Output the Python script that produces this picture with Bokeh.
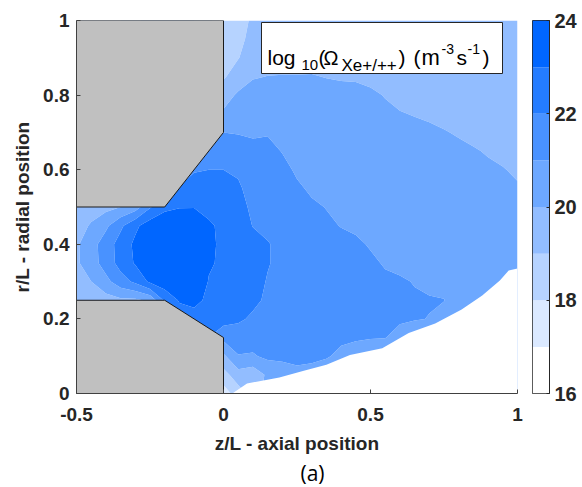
import numpy as np
from bokeh.plotting import figure
from bokeh.layouts import row
from bokeh.models import Range1d, FixedTicker, BoxAnnotation, Label, Title
from bokeh.embed import file_html
from bokeh.resources import INLINE

# ---------------- data ----------------
z_axis = [-0.50, -0.45, -0.40, -0.35, -0.30, -0.25, -0.20, -0.15, -0.10, -0.05,
          0.00, 0.05, 0.10, 0.15, 0.20, 0.25, 0.30, 0.35, 0.40, 0.45, 0.50,
          0.55, 0.60, 0.65, 0.70, 0.75, 0.80, 0.85, 0.90, 0.95, 1.00]
r_axis = [0.00, 0.05, 0.10, 0.15, 0.20, 0.25, 0.30, 0.35, 0.40, 0.45, 0.50,
          0.55, 0.60, 0.65, 0.70, 0.75, 0.80, 0.85, 0.90, 0.95, 1.00]

# log10 ionization rate, one list per z/L column, r/L = 0 ... 1
log_rate_cols = [
    [19.3, 19.3, 19.3, 19.3, 19.3, 19.3, 19.65, 19.85, 19.85, 19.6, 19.3, 19.3, 19.3, 19.3, 19.3, 19.3, 19.3, 19.3, 19.3, 19.3, 19.3],   # -0.50
    [19.5, 19.5, 19.5, 19.5, 19.5, 19.5, 20.0, 20.55, 20.6, 20.1, 19.6, 19.6, 19.6, 19.6, 19.6, 19.6, 19.6, 19.6, 19.6, 19.6, 19.6],    # -0.45
    [19.6, 19.6, 19.6, 19.6, 19.6, 19.6, 20.7, 21.45, 21.5, 20.8, 19.7, 19.7, 19.7, 19.7, 19.7, 19.7, 19.7, 19.7, 19.7, 19.7, 19.7],    # -0.40
    [19.8, 19.8, 19.8, 19.8, 19.8, 19.8, 21.6, 22.35, 22.4, 21.8, 20.0, 20.0, 20.0, 20.0, 20.0, 20.0, 20.0, 20.0, 20.0, 20.0, 20.0],    # -0.35
    [19.8, 19.8, 19.8, 19.8, 19.8, 19.8, 22.2, 23.1, 23.2, 22.8, 20.5, 20.5, 20.5, 20.5, 20.5, 20.5, 20.5, 20.5, 20.5, 20.5, 20.5],     # -0.30
    [20.2, 20.2, 20.2, 20.2, 20.2, 20.2, 23.2, 23.5, 23.55, 23.5, 21.9, 21.9, 21.9, 21.9, 21.9, 21.9, 21.9, 21.9, 21.9, 21.9, 21.9],    # -0.25
    [22.2, 22.2, 22.2, 22.2, 22.2, 22.2, 23.6, 23.7, 23.7, 23.6, 22.8, 21.8, 21.5, 21.5, 21.5, 21.5, 21.5, 21.5, 21.5, 21.5, 21.5],     # -0.20
    [22.3, 22.3, 22.3, 22.3, 22.4, 23.1, 23.8, 23.8, 23.8, 23.7, 22.95, 22.1, 21.3, 21.3, 21.3, 21.3, 21.3, 21.3, 21.3, 21.3, 21.3],    # -0.15
    [22.3, 22.3, 22.3, 22.3, 22.4, 23.4, 23.8, 23.85, 23.85, 23.8, 22.95, 22.5, 21.9, 21.3, 21.0, 21.0, 21.0, 21.0, 21.0, 21.0, 21.0],  # -0.10
    [22.0, 22.0, 22.0, 22.0, 22.5, 22.7, 22.95, 23.1, 23.15, 23.1, 22.8, 22.4, 22.0, 21.4, 20.8, 20.5, 20.5, 20.5, 20.5, 20.5, 20.5],   # -0.05
    [17.5, 18.6, 19.8, 21.3, 22.4, 22.5, 22.7, 22.85, 22.85, 22.85, 22.6, 22.3, 22.0, 21.5, 21.0, 20.1, 19.7, 18.85, 18.6, 18.4, 18.3], # 0.00
    [18.5, 19.6, 20.95, 21.5, 22.15, 22.35, 22.5, 22.6, 22.6, 22.5, 22.35, 22.15, 21.85, 21.4, 20.95, 20.5, 20.1, 19.6, 18.95, 18.7, 18.5],  # 0.05
    [19.5, 19.3, 20.9, 21.4, 21.85, 22.2, 22.3, 22.35, 22.3, 21.97, 21.8, 21.6, 21.4, 21.2, 20.9, 20.55, 20.25, 19.95, 19.6, 19.35, 19.2],   # 0.10
    [20.3, 20.2, 21.2, 21.5, 21.7, 21.85, 21.95, 22.05, 22.05, 21.8, 21.6, 21.45, 21.35, 21.2, 20.95, 20.6, 20.3, 20.01, 19.7, 19.5, 19.4],  # 0.15
    [20.3, 20.3, 21.3, 21.5, 21.6, 21.7, 21.75, 21.8, 21.8, 21.7, 21.5, 21.35, 21.2, 20.97, 20.75, 20.5, 20.25, 20.02, 19.8, 19.6, 19.5],    # 0.20
    [20.3, 20.6, 21.4, 21.5, 21.55, 21.6, 21.6, 21.6, 21.55, 21.45, 21.3, 21.1, 20.9, 20.75, 20.6, 20.45, 20.25, 20.02, 19.8, 19.6, 19.5],   # 0.25
    [20.3, 20.5, 21.3, 21.45, 21.5, 21.5, 21.5, 21.45, 21.35, 21.25, 21.1, 20.9, 20.7, 20.6, 20.5, 20.4, 20.25, 20.03, 19.8, 19.65, 19.55],  # 0.30
    [20.3, 20.4, 21.1, 21.35, 21.4, 21.4, 21.35, 21.3, 21.2, 21.1, 20.98, 20.8, 20.65, 20.55, 20.45, 20.35, 20.2, 19.98, 19.8, 19.65, 19.55],# 0.35
    [20.3, 20.3, 20.75, 21.2, 21.35, 21.35, 21.3, 21.25, 21.15, 20.98, 20.85, 20.7, 20.6, 20.5, 20.4, 20.3, 20.15, 19.95, 19.8, 19.65, 19.55],# 0.40
    [20.3, 20.3, 20.6, 21.1, 21.3, 21.3, 21.25, 21.2, 21.1, 20.9, 20.75, 20.65, 20.55, 20.45, 20.35, 20.25, 20.12, 19.95, 19.8, 19.65, 19.55], # 0.45
    [20.3, 20.3, 20.4, 21.05, 21.2, 21.25, 21.2, 21.1, 20.95, 20.8, 20.7, 20.6, 20.5, 20.4, 20.3, 20.2, 20.07, 19.9, 19.75, 19.62, 19.52],    # 0.50
    [20.3, 20.3, 20.4, 21.02, 21.15, 21.15, 21.1, 20.95, 20.8, 20.7, 20.6, 20.5, 20.4, 20.3, 20.2, 20.08, 19.98, 19.85, 19.7, 19.6, 19.5],   # 0.55
    [20.3, 20.3, 20.4, 20.75, 21.1, 21.1, 21.05, 20.9, 20.75, 20.65, 20.55, 20.45, 20.35, 20.25, 20.15, 20.02, 19.9, 19.8, 19.65, 19.55, 19.48], # 0.60
    [20.3, 20.3, 20.4, 20.5, 21.05, 21.05, 20.98, 20.8, 20.7, 20.6, 20.5, 20.4, 20.3, 20.2, 20.1, 19.98, 19.85, 19.75, 19.62, 19.52, 19.45],   # 0.65
    [20.3, 20.3, 20.3, 20.4, 20.98, 21.05, 20.85, 20.7, 20.6, 20.5, 20.4, 20.3, 20.22, 20.15, 20.06, 19.95, 19.82, 19.72, 19.6, 19.5, 19.43],  # 0.70
    [20.3, 20.3, 20.3, 20.3, 20.7, 21.02, 20.75, 20.6, 20.5, 20.42, 20.35, 20.27, 20.2, 20.12, 20.02, 19.9, 19.8, 19.7, 19.58, 19.48, 19.42], # 0.75
    [20.3, 20.3, 20.3, 20.3, 20.4, 20.6, 20.6, 20.5, 20.42, 20.36, 20.3, 20.22, 20.15, 20.07, 19.97, 19.88, 19.78, 19.68, 19.57, 19.47, 19.4], # 0.80
    [20.3, 20.3, 20.3, 20.3, 20.3, 20.3, 20.45, 20.4, 20.35, 20.3, 20.22, 20.15, 20.08, 20.02, 19.94, 19.86, 19.76, 19.66, 19.56, 19.46, 19.4], # 0.85
    [20.3, 20.3, 20.3, 20.3, 20.3, 20.3, 20.35, 20.3, 20.25, 20.2, 20.15, 20.1, 20.04, 19.98, 19.9, 19.82, 19.74, 19.65, 19.55, 19.46, 19.4],  # 0.90
    [20.3, 20.3, 20.3, 20.3, 20.3, 20.3, 20.3, 20.25, 20.2, 20.15, 20.1, 20.05, 20.01, 19.95, 19.88, 19.8, 19.72, 19.64, 19.55, 19.46, 19.4],  # 0.95
    [20.3, 20.3, 20.3, 20.3, 20.3, 20.3, 20.25, 20.2, 20.15, 20.1, 20.06, 20.02, 19.97, 19.92, 19.86, 19.8, 19.72, 19.64, 19.55, 19.46, 19.4], # 1.00
]

levels = [16, 17, 18, 19, 20, 21, 22, 23, 24]
palette = ["#ffffff", "#dbe9ff", "#b6d3ff", "#92bdff",
           "#6da8ff", "#4992ff", "#247cff", "#0066ff"]
cbar_ticks = [16, 18, 20, 22, 24]

# edge of the simulation domain (no data below it)
domain_edge_z = [0.03, 0.08, 0.19, 0.27, 0.35, 0.43, 0.54, 0.63, 0.72, 0.81, 0.88, 0.94, 0.97, 1.00, 1.00]
domain_edge_r = [0.00, 0.027, 0.043, 0.06, 0.077, 0.103, 0.121, 0.162, 0.188, 0.225, 0.263, 0.303, 0.33, 0.335, 0.00]

# thruster walls
upper_wall_z = [-0.5, 0.0, 0.0, -0.2, -0.5]
upper_wall_r = [1.0, 1.0, 0.7, 0.5, 0.5]
lower_wall_z = [-0.5, -0.2, 0.0, 0.0, -0.5]
lower_wall_r = [0.25, 0.25, 0.15, 0.0, 0.0]

x_ticks = [-0.5, 0, 0.5, 1]
y_ticks = [0, 0.2, 0.4, 0.6, 0.8, 1]

FONT = "Liberation Sans"
TXT = "#262626"
H = 486

# ---------------- main figure ----------------
p = figure(width=523, height=H, output_backend="svg", toolbar_location=None,
           x_range=Range1d(-0.5, 1.0), y_range=Range1d(0, 1),
           min_border_left=76, min_border_top=20, min_border_bottom=H - 393,
           min_border_right=6)
p.outline_line_color = None
p.grid.visible = False

z = np.array(log_rate_cols).T
p.contour(z_axis, r_axis, z, levels=levels, fill_color=palette)

p.patch(domain_edge_z, domain_edge_r, fill_color="white", line_color=None)
p.patch(upper_wall_z, upper_wall_r, fill_color="#c0c0c0", line_color="#1a1a1a", line_width=1)
p.patch(lower_wall_z, lower_wall_r, fill_color="#c0c0c0", line_color="#1a1a1a", line_width=1)

for ax in (p.xaxis[0], p.yaxis[0]):
    ax.major_label_text_font = FONT
    ax.major_label_text_font_style = "bold"
    ax.major_label_text_font_size = "19px"
    ax.major_label_text_color = TXT
    ax.axis_label_text_font = FONT
    ax.axis_label_text_font_style = "bold"
    ax.axis_label_text_font_size = "19px"
    ax.axis_label_text_color = TXT
    ax.major_tick_in = 4
    ax.major_tick_out = 0
    ax.minor_tick_line_color = None
    ax.axis_line_color = "#404040"
    ax.major_tick_line_color = "#404040"

p.xaxis.ticker = FixedTicker(ticks=x_ticks)
p.yaxis.ticker = FixedTicker(ticks=y_ticks)
p.xaxis.major_label_overrides = {t: ("%g" % t) for t in x_ticks}
p.yaxis.major_label_overrides = {t: ("%g" % t) for t in y_ticks}
p.xaxis.axis_label = "z/L - axial position"
p.yaxis.axis_label = "r/L - radial position"
p.xaxis.major_label_standoff = 14
p.yaxis.major_label_standoff = 7
p.xaxis.axis_label_standoff = 9
p.yaxis.axis_label_standoff = 7

p.add_layout(Title(text="(a)", align="left", offset=224, text_font="Open Sans",
                   text_font_size="21px", text_font_style="normal",
                   text_color="#000000", standoff=0), "below")

# title box inside the plot
def xd(px):
    return -0.5 + (px - 76) / 441.0 * 1.5

def yd(py):
    return (393 - py) / 373.0

p.add_layout(BoxAnnotation(left=xd(261), right=xd(502), top=yd(22), bottom=yd(73),
                           fill_color="white", fill_alpha=1.0,
                           line_color="#262626", line_width=1, line_alpha=1.0))

pieces = [("log", 267, 57, 21), ("10", 301, 64.5, 15), ("(", 318, 57, 21),
          ("\u03a9", 323, 57, 20), ("Xe+/++", 341, 64.5, 17), (")", 398, 57, 21),
          ("(", 413, 57, 21), ("m", 421, 57, 22), ("-3", 441, 48, 14), ("s", 456, 57, 21),
          ("-1", 467, 48, 14), (")", 482, 57, 21)]
for txt, px, py, fs in pieces:
    p.add_layout(Label(x=xd(px), y=yd(py), text=txt, text_font=FONT,
                       text_font_size=f"{fs}px", text_color="#000000",
                       text_baseline="alphabetic", text_align="left"))

# ---------------- colour bar ----------------
cb = figure(width=58, height=H, output_backend="svg", toolbar_location=None,
            x_range=Range1d(0, 1), y_range=Range1d(16, 24),
            y_axis_location="right", x_axis_location=None,
            min_border_left=9, min_border_right=32,
            min_border_top=20, min_border_bottom=H - 393)
cb.grid.visible = False
cb.outline_line_color = "#262626"
cb.quad(left=0, right=1, bottom=levels[:-1], top=levels[1:],
        fill_color=palette, line_color=None)
ya = cb.yaxis[0]
ya.ticker = FixedTicker(ticks=cbar_ticks)
ya.major_label_text_font = FONT
ya.major_label_text_font_style = "bold"
ya.major_label_text_font_size = "20px"
ya.major_label_text_color = TXT
ya.major_label_standoff = 5
ya.major_tick_in = 3
ya.major_tick_out = 0
ya.minor_tick_line_color = None
ya.axis_line_color = "#262626"
ya.major_tick_line_color = "#262626"

layout = row(p, cb)
open("out.html", "w").write(file_html(layout, INLINE))
